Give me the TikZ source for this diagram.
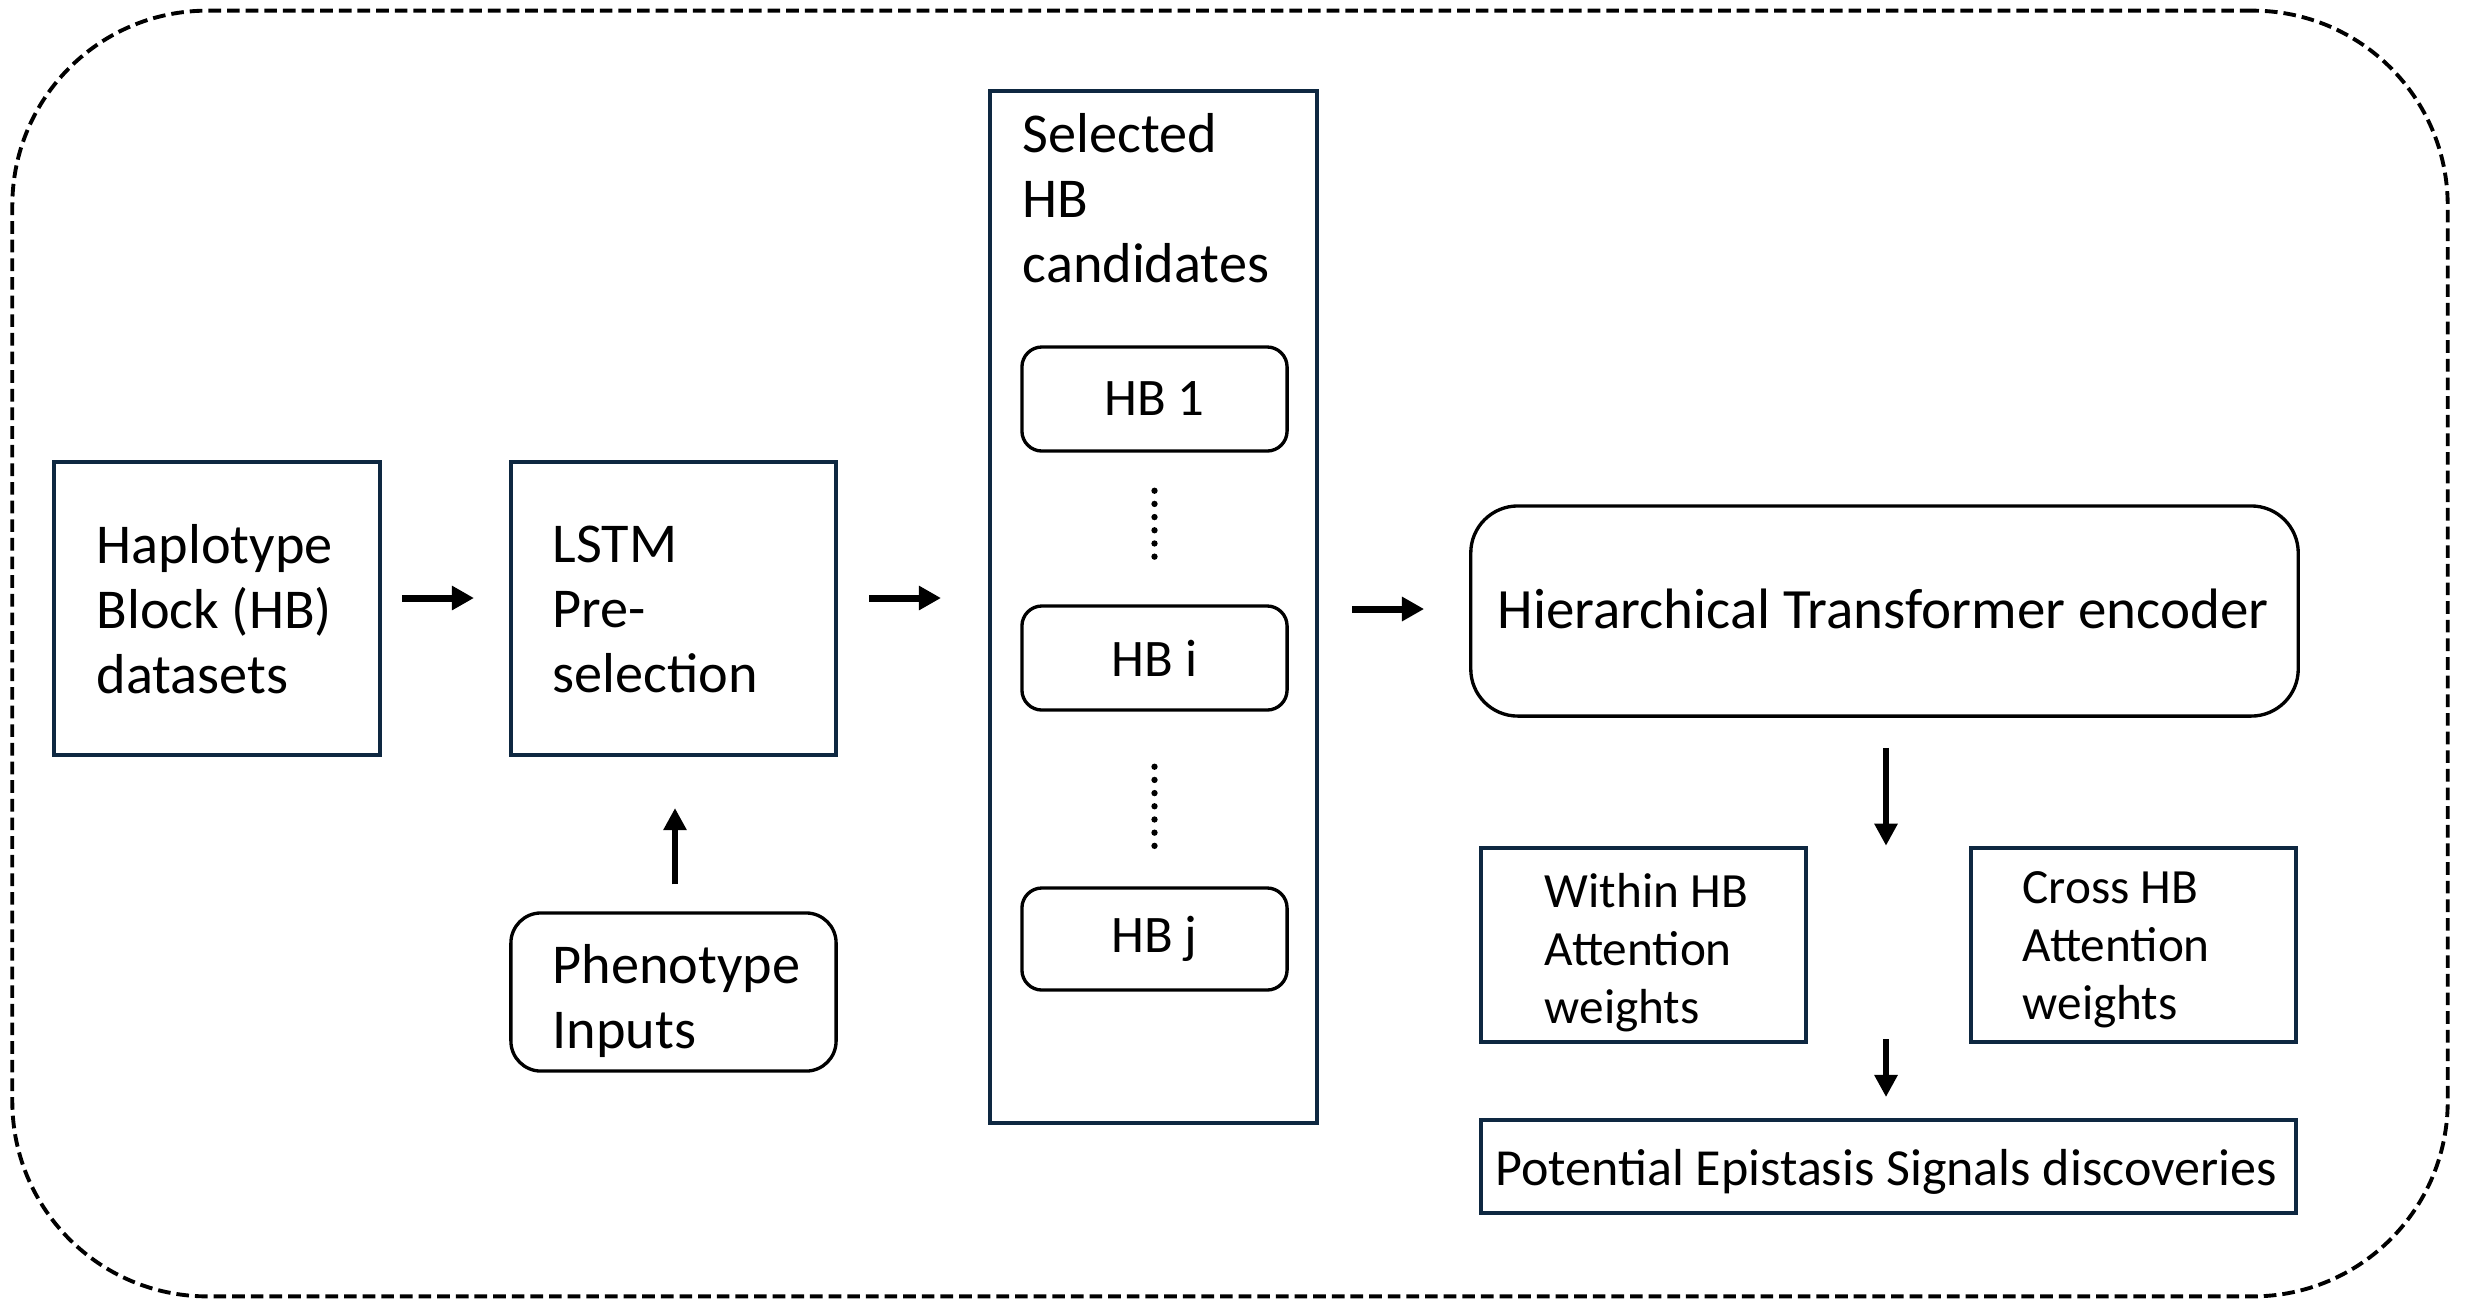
\documentclass[tikz,border=0pt]{standalone}
\usepackage{fontspec}
\setmainfont{Carlito}
\usetikzlibrary{arrows.meta,calc}
\definecolor{navy}{HTML}{0E2841}
\begin{document}
\begin{tikzpicture}[x=0.01cm,y=-0.01cm,
  sqbox/.style={draw=navy,line width=1.1pt,inner sep=0pt},
  rndbox/.style={draw=black,line width=0.95pt,inner sep=0pt},
  txt/.style={align=left,inner sep=0pt,font=\fontsize{16}{18.5}\selectfont},
  hiertxt/.style={inner sep=0pt,font=\fontsize{16.2}{18.5}\selectfont},
  smtxt/.style={align=left,inner sep=0pt,font=\fontsize{14}{16.5}\selectfont},
  pottxt/.style={inner sep=0pt,font=\fontsize{14.8}{17}\selectfont},
  hbtxt/.style={inner sep=0pt,font=\fontsize{15}{17}\selectfont},
  arr/.style={line width=2pt,-{Triangle[length=6.3pt,width=6.6pt]}},
  varr/.style={line width=1.6pt,-{Triangle[length=6.3pt,width=6.3pt]}},
  dots/.style={line width=1.8pt,line cap=round,dash pattern=on 0pt off 3.75pt},
  frame/.style={draw=black,line width=1.1pt,dash pattern=on 3.6pt off 1.7pt,rounded corners=1.95cm,inner sep=0pt}]
\useasboundingbox (0,0) rectangle (2473,1302);

\node[frame,minimum width=24.34cm,minimum height=12.85cm] (outer) at (1230,653.5) {};

% boxes
\node[sqbox,minimum width=3.26cm,minimum height=2.93cm] (hap) at (217,608.5) {};
\node[sqbox,minimum width=3.25cm,minimum height=2.93cm] (lstm) at (673.5,608.5) {};
\node[rndbox,rounded corners=0.3cm,minimum width=3.25cm,minimum height=1.58cm] (pheno) at (673.5,992) {};
\node[sqbox,minimum width=3.27cm,minimum height=10.32cm] (sel) at (1153.5,607) {};
\node[rndbox,rounded corners=0.2cm,minimum width=2.65cm,minimum height=1.04cm] (hb1) at (1154.5,399) {};
\node[rndbox,rounded corners=0.2cm,minimum width=2.65cm,minimum height=1.04cm] (hbi) at (1154.5,658) {};
\node[rndbox,rounded corners=0.2cm,minimum width=2.65cm,minimum height=1.02cm] (hbj) at (1154.5,939) {};
\node[rndbox,rounded corners=0.47cm,minimum width=8.27cm,minimum height=2.10cm] (hier) at (1884.5,611) {};
\node[sqbox,minimum width=3.25cm,minimum height=1.94cm] (within) at (1643.5,945) {};
\node[sqbox,minimum width=3.25cm,minimum height=1.94cm] (cross) at (2133.5,945) {};
\node[sqbox,minimum width=8.15cm,minimum height=0.93cm] (pot) at (1888.5,1166.5) {};

% texts
\node[txt,anchor=west] (hapt) at (96,609) {Haplotype\\Block (HB)\\datasets};
\node[txt,anchor=west] (lstmt) at (552,609) {LSTM\\Pre-\\selection};
\node[txt,anchor=west] (phenot) at (552,1001) {Phenotype\\Inputs};
\node[txt,anchor=west] (selt) at (1022,198) {Selected\\HB\\candidates};
\node[hbtxt] (hb1t) at (hb1) {HB 1};
\node[hbtxt] (hbit) at (hbi) {HB i};
\node[hbtxt] (hbjt) at (hbj) {HB j};
\node[hiertxt] (hiert) at (1883,609) {Hierarchical Transformer encoder};
\node[smtxt,anchor=west] (withint) at (1544,953) {Within HB\\Attention\\weights};
\node[smtxt,anchor=west] (crosst) at (2022,950) {Cross HB\\Attention\\weights};
\node[pottxt] (pott) at (1886,1172) {Potential Epistasis Signals discoveries};

% arrows
\draw[arr] ($(hap.east)+(20,-10.5)$) -- ($(lstm.west)+(-35,-10.5)$);
\draw[arr] ($(lstm.east)+(31,-10.5)$) -- ($(sel.west)+(-47,-9)$);
\draw[arr] ($(sel.east)+(33,2)$) -- ($(hier.west)+(-45,-2)$);
\draw[varr] ($(pheno.north)+(1.5,-27)$) -- ($(lstm.south)+(1.5,51)$);
\draw[varr] ($(hier.south)+(1.5,30)$) -- ($(hier.south)+(1.5,128)$);
\draw[varr] ($(pot.north)+(-2.5,-79)$) -- ($(pot.north)+(-2.5,-21)$);

% dotted
\draw[dots] ($(hb1.south)+(0,38)$) -- ($(hbi.north)+(0,-36)$);
\draw[dots] ($(hbi.south)+(0,55)$) -- ($(hbj.north)+(0,-40)$);
\end{tikzpicture}
\end{document}
